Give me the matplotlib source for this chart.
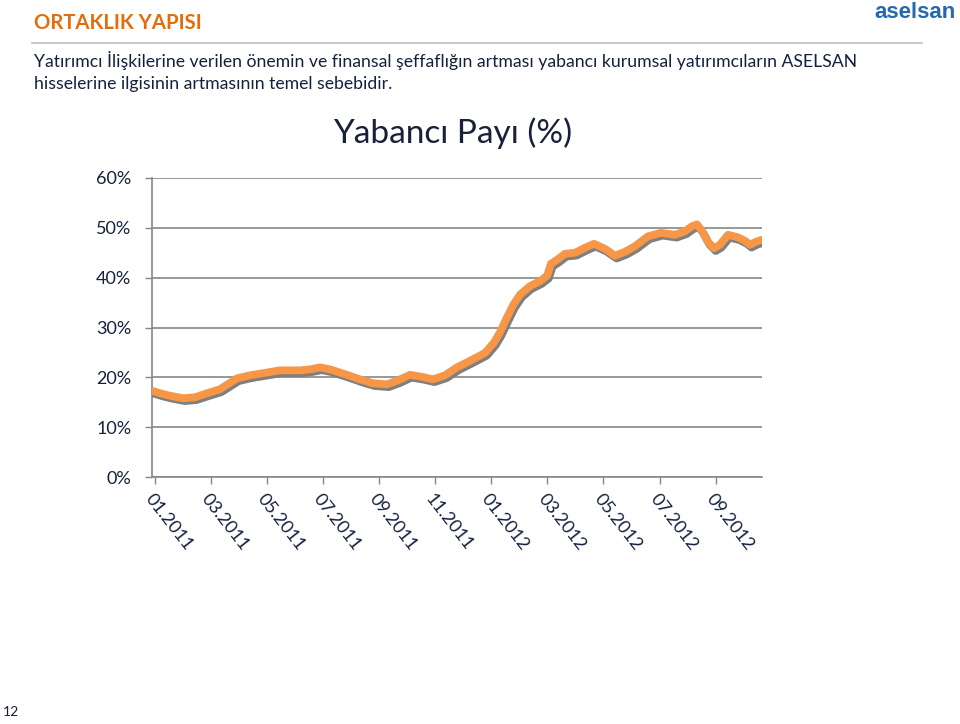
import matplotlib
matplotlib.use("Agg")
import matplotlib.pyplot as plt
import matplotlib.patheffects as pe
from matplotlib.lines import Line2D

# ---- data (months since 01.2011, foreign share %) ----
months = [-0.09, 0.20, 0.55, 1.02, 1.44, 1.87, 2.33, 2.94, 3.40, 3.94, 4.47, 5.19,
          5.54, 5.90, 6.25, 6.86, 7.32, 7.79, 8.29, 8.68, 9.10, 9.53, 9.92, 10.35,
          10.78, 11.24, 11.78, 12.10, 12.31, 12.56, 12.78, 13.03, 13.38, 13.74, 13.99,
          14.13, 14.35, 14.63, 14.99, 15.34, 15.66, 16.05, 16.41, 16.77, 17.12, 17.59,
          18.05, 18.55, 18.90, 19.15, 19.33, 19.51, 19.72, 19.94, 20.15, 20.44, 20.79,
          21.04, 21.22, 21.43, 21.65]
share = [17.3, 16.8, 16.3, 15.8, 16.0, 16.8, 17.6, 19.8, 20.4, 20.9, 21.4, 21.4,
         21.6, 22.0, 21.6, 20.5, 19.6, 18.8, 18.6, 19.4, 20.5, 20.1, 19.6, 20.4,
         22.0, 23.3, 24.9, 27.0, 29.0, 32.0, 34.5, 36.6, 38.3, 39.3, 40.4,
         42.8, 43.6, 44.8, 45.0, 46.0, 46.8, 45.8, 44.4, 45.2, 46.3, 48.3,
         49.0, 48.6, 49.3, 50.3, 50.7, 49.4, 47.2, 45.9, 46.6, 48.6, 48.1,
         47.4, 46.6, 47.2, 47.6]
tick_months = [0, 2, 4, 6, 8, 10, 12, 14, 16, 18, 20]
tick_labels = ["01.2011", "03.2011", "05.2011", "07.2011", "09.2011", "11.2011",
               "01.2012", "03.2012", "05.2012", "07.2012", "09.2012"]
y_ticks = [0, 10, 20, 30, 40, 50, 60]

TEXT = "#14213D"
plt.rcParams['font.family'] = ['Lato', 'DejaVu Sans']

fig = plt.figure(figsize=(9.6, 7.24), dpi=100)
W, H = 960, 724

# header
fig.text(34 / W, 1 - 23 / H, "ORTAKLIK YAPISI", color="#E46C0A", fontsize=14.6,
         fontweight="bold", ha="left", va="center")
fig.text(956 / W, 1 - 12 / H, "aselsan", color="#2468B0", fontsize=16,
         fontweight="heavy", ha="right", va="center", family=["Liberation Sans", "DejaVu Sans"])
fig.add_artist(Line2D([32 / W, 922 / W], [1 - 42.5 / H, 1 - 42.5 / H],
                      color="#BFBFBF", lw=1.2, transform=fig.transFigure))
fig.text(34 / W, 1 - 60 / H,
         "Yatırımcı İlişkilerine verilen önemin ve finansal şeffaflığın artması yabancı kurumsal yatırımcıların ASELSAN",
         color=TEXT, fontsize=12.7, ha="left", va="center")
fig.text(34 / W, 1 - 84 / H, "hisselerine ilgisinin artmasının temel sebebidir.",
         color=TEXT, fontsize=12.7, ha="left", va="center")
fig.text(3 / W, 1 - 712 / H, "12", color=TEXT, fontsize=10, ha="left", va="center")

# chart title
fig.text(453 / W, 1 - 133 / H, "Yabancı Payı (%)", color="#1A1F3A", fontsize=24,
         ha="center", va="center")

ax = fig.add_axes([152 / W, 1 - 477 / H, 610 / W, 299 / H])
ax.plot(months, share, color="#F79646", lw=5.6, solid_capstyle="round",
        solid_joinstyle="round",
        path_effects=[pe.SimpleLineShadow(offset=(1.2, -2.0), shadow_color="#7F7F7F", alpha=1.0),
                      pe.Normal()], zorder=3)

ax.set_xlim(-0.09, 21.65)
ax.set_ylim(0, 60)
ax.set_yticks(y_ticks)
ax.set_yticklabels([f"{v}%" for v in y_ticks])
ax.set_xticks(tick_months)
ax.set_xticklabels(tick_labels, rotation=-52, ha="left", va="top", rotation_mode="anchor")
ax.yaxis.grid(True, color="#868686", lw=1.2)
ax.set_axisbelow(True)
for s in ["top", "right"]:
    ax.spines[s].set_visible(False)
for s in ["left", "bottom"]:
    ax.spines[s].set_color("#868686")
    ax.spines[s].set_linewidth(1.2)
ax.tick_params(axis="both", colors="#868686", length=5, width=1.0, labelcolor=TEXT,
               labelsize=13)
ax.tick_params(axis="y", pad=10)
ax.tick_params(axis="x", pad=5)

fig.savefig("out.png", dpi=100)
